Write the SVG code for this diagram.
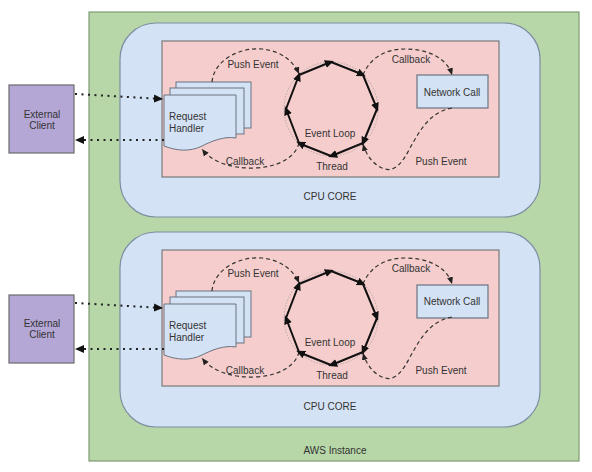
<svg xmlns="http://www.w3.org/2000/svg" width="592" height="472" viewBox="0 0 592 472">
<style>
text{font-family:"Liberation Sans",Arial,sans-serif;font-size:10px;fill:#333}
.mid{text-anchor:middle}
.aws{fill:#b7d7a8;stroke:#7f9a74;stroke-width:1.2}
.core{fill:#d3e2f4;stroke:#7d8ea3;stroke-width:1.2}
.thread{fill:#f5cdcc;stroke:#7b7b7b;stroke-width:1.2}
.client{fill:#b4a7d6;stroke:#6b6b6b;stroke-width:1.2}
.doc{fill:#d3e2f4;stroke:#6b7380;stroke-width:1}
.net{fill:#d3e2f4;stroke:#6b7380;stroke-width:1.2}
.dash{fill:none;stroke:#333;stroke-width:1.2;stroke-dasharray:4 3;marker-end:url(#ah)}
.dot{fill:none;stroke:#222;stroke-width:2;stroke-dasharray:2 4.5;marker-end:url(#ahb)}
.loop{fill:none;stroke:#111;stroke-width:2;marker-end:url(#ahl)}
.ring{fill:none;stroke:#999;stroke-width:0.7;stroke-dasharray:1.5 1.5}
</style>
<defs>
<marker id="ah" markerWidth="8" markerHeight="8" refX="7" refY="4" orient="auto" markerUnits="userSpaceOnUse"><path d="M0,1 L7,4 L0,7 Z" fill="#222"/></marker>
<marker id="ahb" markerWidth="10" markerHeight="10" refX="9" refY="5" orient="auto" markerUnits="userSpaceOnUse"><path d="M0,1 L9,5 L0,9 Z" fill="#111"/></marker>
<marker id="ahl" markerWidth="10" markerHeight="10" refX="6" refY="5" orient="auto" markerUnits="userSpaceOnUse"><path d="M0,1 L9,5 L0,9 Z" fill="#111"/></marker>
</defs>

<g id="aws-instance">
<rect class="aws" x="89" y="12" width="490" height="449"/>
<text class="mid" x="335" y="454">AWS Instance</text>
</g>

<g id="core1">
<g id="cpu-core-1"><rect class="core" x="120" y="23" width="420" height="194" rx="36"/><text class="mid" x="330" y="200">CPU CORE</text></g>
<g id="thread-1"><rect class="thread" x="162" y="41" width="337" height="136"/></g>
<g id="request-handler-1">
<rect class="doc" x="176" y="82" width="75" height="46"/>
<rect class="doc" x="170" y="88" width="74" height="46"/>
<path class="doc" d="M164,95 H236 V138 C224,136 212,141 202,146 C190,152 177,151 164,146 Z"/>
<text x="169" y="119.5">Request</text><text x="169" y="131.5">Handler</text>
</g>
<g id="network-call-1"><rect class="net" x="417" y="75" width="71" height="33"/><text class="mid" x="452" y="95.5">Network Call</text></g>
<g id="event-loop-1">
<circle class="ring" cx="331" cy="109" r="47"/>
<text class="mid" x="330" y="136.5">Event Loop</text>
<text class="mid" x="332" y="170">Thread</text>
</g>
<g id="labels-1">
<text class="mid" x="253" y="67.5">Push Event</text>
<text class="mid" x="411" y="62.5">Callback</text>
<text class="mid" x="245" y="165">Callback</text>
<text class="mid" x="441" y="165">Push Event</text>
</g>
</g>

<g id="core2">
<g id="cpu-core-2"><rect class="core" x="120" y="232" width="420" height="195" rx="36"/><text class="mid" x="330" y="410">CPU CORE</text></g>
<g id="thread-2"><rect class="thread" x="162" y="250" width="337" height="136"/></g>
<g id="request-handler-2" transform="translate(0,209)">
<rect class="doc" x="176" y="82" width="75" height="46"/>
<rect class="doc" x="170" y="88" width="74" height="46"/>
<path class="doc" d="M164,95 H236 V138 C224,136 212,141 202,146 C190,152 177,151 164,146 Z"/>
<text x="169" y="119.5">Request</text><text x="169" y="131.5">Handler</text>
</g>
<g id="network-call-2"><rect class="net" x="417" y="285" width="71" height="33"/><text class="mid" x="452" y="305">Network Call</text></g>
<g id="event-loop-2">
<circle class="ring" cx="331" cy="318" r="47"/>
<text class="mid" x="330" y="345.5">Event Loop</text>
<text class="mid" x="332" y="379">Thread</text>
</g>
<g id="labels-2">
<text class="mid" x="253" y="276.5">Push Event</text>
<text class="mid" x="411" y="271.5">Callback</text>
<text class="mid" x="245" y="374">Callback</text>
<text class="mid" x="441" y="374">Push Event</text>
</g>
</g>

<g id="external-client-1"><rect class="client" x="9" y="85" width="65" height="68"/><text class="mid" x="42" y="117.5">External</text><text class="mid" x="42" y="128.5">Client</text></g>
<g id="external-client-2"><rect class="client" x="9" y="295" width="65" height="68"/><text class="mid" x="42" y="327">External</text><text class="mid" x="42" y="338">Client</text></g>

<g id="connectors">
<g id="conn-1">
<path class="dot" d="M75,94 L163,99"/>
<path class="dot" d="M164,140 L75,140"/>
<path class="dash" d="M212,82 C214,60 240,47 262,49 C282,51 294,62 299,74"/>
<path class="dash" d="M299,143 C295,158 278,167 255,168 C232,169 212,162 202,149"/>
<path class="dash" d="M363,75 C370,58 385,49 405,49 C428,49 447,58 452,75"/>
<path class="dash" d="M452,108 C430,112 420,130 410,148 C403,162 395,172 385,169 C374,166 366,155 363,144"/>
<path class="loop" d="M299,75 L327,63.5 L331,62"/>
<path class="loop" d="M331,62 L360,73.5 L363,75"/>
<path class="loop" d="M363,75 L375.5,105 L377,109"/>
<path class="loop" d="M377,109 L364.5,139.5 L363,143"/>
<path class="loop" d="M363,143 L335,154.5 L331,156"/>
<path class="loop" d="M331,156 L302,144.5 L299,143"/>
<path class="loop" d="M299,143 L287.5,113 L286,109"/>
<path class="loop" d="M286,109 L297.5,79 L299,75"/>
</g>
<g id="conn-2" transform="translate(0,209)">
<path class="dot" d="M75,94 L163,99"/>
<path class="dot" d="M164,140 L75,140"/>
<path class="dash" d="M212,82 C214,60 240,47 262,49 C282,51 294,62 299,74"/>
<path class="dash" d="M299,143 C295,158 278,167 255,168 C232,169 212,162 202,149"/>
<path class="dash" d="M363,75 C370,58 385,49 405,49 C428,49 447,58 452,75"/>
<path class="dash" d="M452,108 C430,112 420,130 410,148 C403,162 395,172 385,169 C374,166 366,155 363,144"/>
<path class="loop" d="M299,75 L327,63.5 L331,62"/>
<path class="loop" d="M331,62 L360,73.5 L363,75"/>
<path class="loop" d="M363,75 L375.5,105 L377,109"/>
<path class="loop" d="M377,109 L364.5,139.5 L363,143"/>
<path class="loop" d="M363,143 L335,154.5 L331,156"/>
<path class="loop" d="M331,156 L302,144.5 L299,143"/>
<path class="loop" d="M299,143 L287.5,113 L286,109"/>
<path class="loop" d="M286,109 L297.5,79 L299,75"/>
</g>
</g>
</svg>
